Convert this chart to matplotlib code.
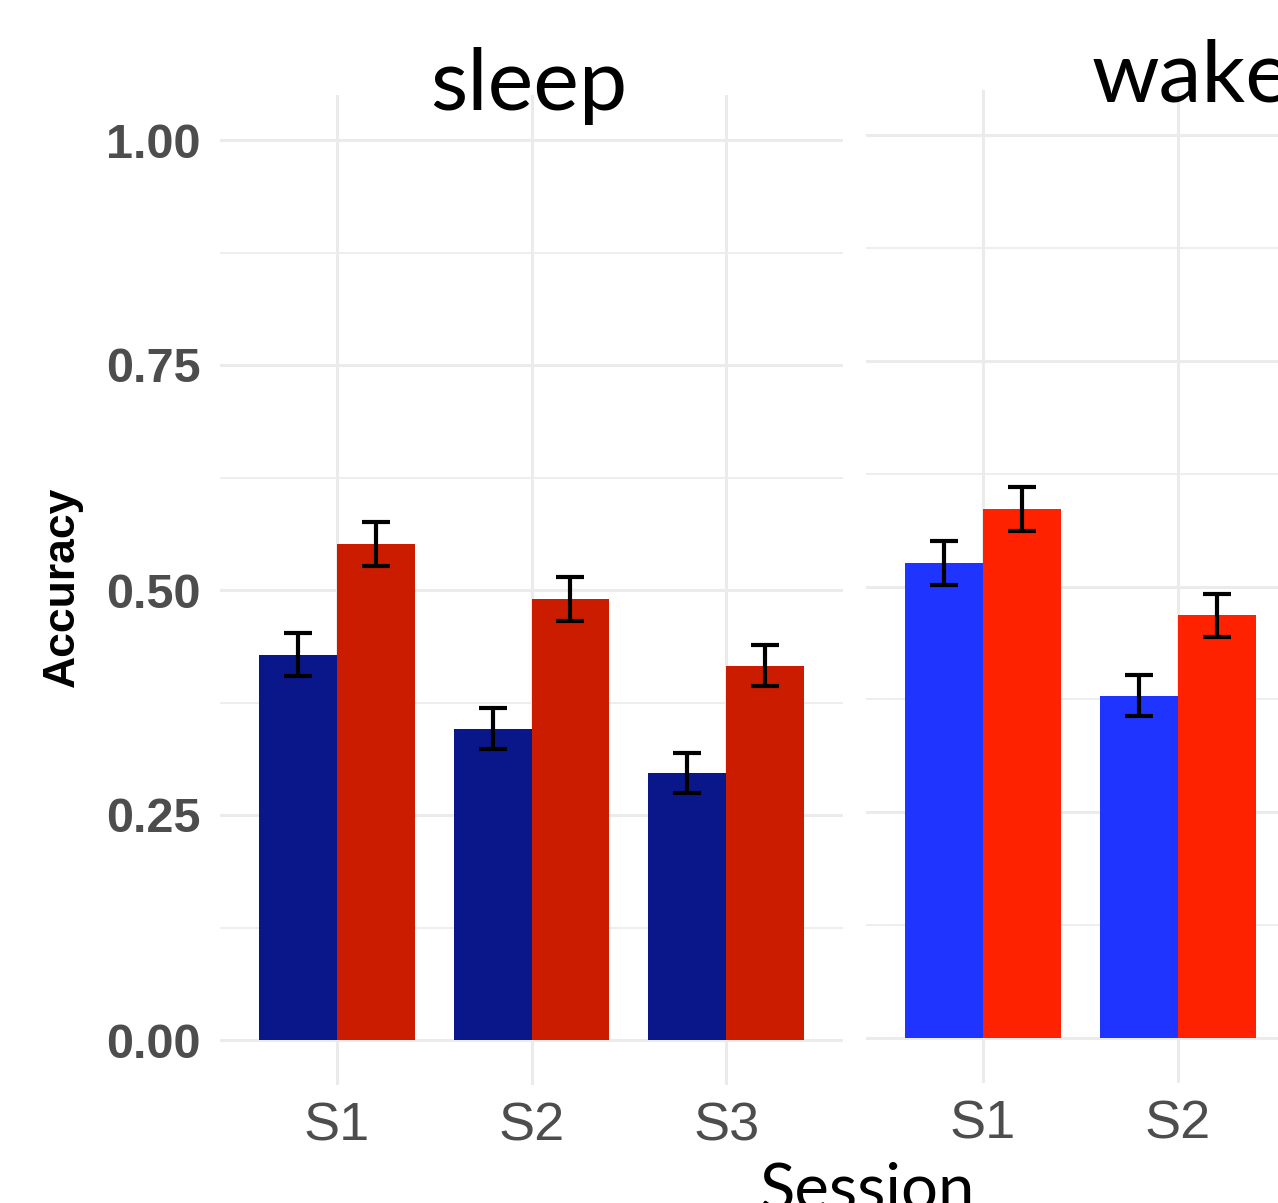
import numpy as np
import matplotlib
matplotlib.use('Agg')
import matplotlib.pyplot as plt

# data
sessions = ['S1', 'S2', 'S3']
sleep_blue = [0.428, 0.346, 0.297]
sleep_red = [0.551, 0.490, 0.416]
sleep_blue_err = [0.024, 0.023, 0.022]
sleep_red_err = [0.024, 0.024, 0.023]

wake_sessions = ['S1', 'S2']
wake_blue = [0.526, 0.379]
wake_red = [0.586, 0.468]
wake_blue_err = [0.024, 0.023]
wake_red_err = [0.024, 0.024]

grid_col = '#EBEBEB'
tick_col = '#4D4D4D'

fig = plt.figure(figsize=(12.78, 12.03), dpi=100)

def panel(rect, names, blue, red, berr, rerr, c_blue, c_red, show_y):
    ax = fig.add_axes(rect)
    x = np.arange(1, len(names) + 1)
    ax.set_xlim(0.4, 3.6)
    ax.set_ylim(-0.05, 1.05)
    # grid like theme_minimal
    for v in [0, 0.25, 0.5, 0.75, 1.0]:
        ax.axhline(v, color=grid_col, lw=2.2, zorder=0)
    for v in [0.125, 0.375, 0.625, 0.875]:
        ax.axhline(v, color=grid_col, lw=1.2, zorder=0)
    for v in [1, 2, 3]:
        ax.axvline(v, color=grid_col, lw=2.2, zorder=0)
    ax.bar(x - 0.2, blue, width=0.4, color=c_blue, zorder=2)
    ax.bar(x + 0.2, red, width=0.4, color=c_red, zorder=2)
    ax.errorbar(x - 0.2, blue, yerr=berr, fmt='none', ecolor='black',
                elinewidth=3, capsize=10, capthick=3, zorder=3)
    ax.errorbar(x + 0.2, red, yerr=rerr, fmt='none', ecolor='black',
                elinewidth=3, capsize=10, capthick=3, zorder=3)
    for s in ax.spines.values():
        s.set_visible(False)
    ax.set_xticks(x)
    ax.set_xticklabels(names, fontsize=39, color=tick_col,
                       family='Liberation Sans')
    ax.tick_params(axis='x', length=0, pad=12)
    if show_y:
        ax.set_yticks([0, 0.25, 0.5, 0.75, 1.0])
        ax.set_yticklabels(['0.00', '0.25', '0.50', '0.75', '1.00'],
                           fontsize=35, color=tick_col, fontweight='bold',
                           family='Liberation Sans')
        ax.tick_params(axis='y', length=0, pad=14)
    else:
        ax.set_yticks([])
    return ax

panel([220/1278, 1-1085/1203, 623/1278, 990/1203],
      sessions, sleep_blue, sleep_red, sleep_blue_err, sleep_red_err,
      '#0A178A', '#CC1C00', True)
panel([866/1278, 1-1083/1203, 624/1278, 993/1203],
      wake_sessions, wake_blue, wake_red, wake_blue_err, wake_red_err,
      '#1F35FF', '#FF2200', False)

fig.text(62/1278, 1-587/1203, 'Accuracy', rotation=90, ha='center', va='center',
         fontsize=32, fontweight='bold', family='Liberation Sans')
fig.text(430/1278, 1-110/1203, 'sleep', ha='left', va='baseline',
         fontsize=62, family='Lato')
fig.text(1092/1278, 1-101/1203, 'wake', ha='left', va='baseline',
         fontsize=62, family='Lato')
fig.text(868/1278, 1-1210/1203, 'Session', ha='center', va='baseline',
         fontsize=47, family='Lato')

fig.savefig('out.png', dpi=100)
